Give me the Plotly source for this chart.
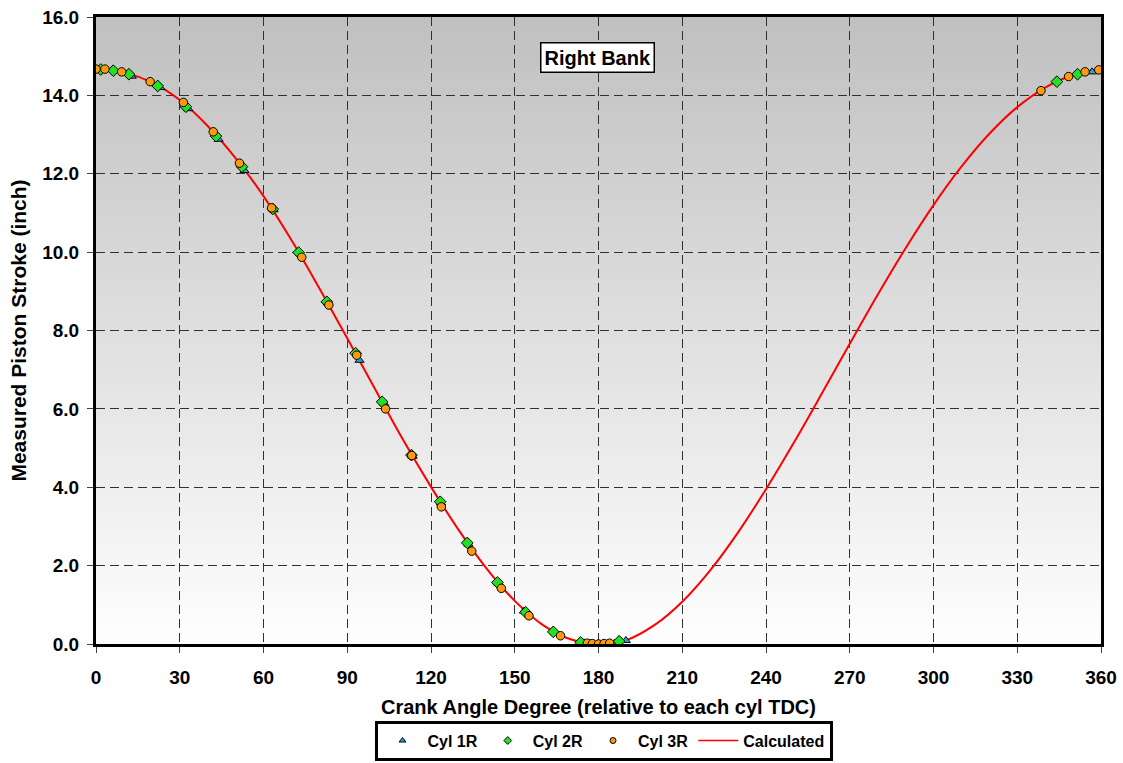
import plotly.graph_objects as go

# Measured piston stroke (inch) vs crank angle, right bank
cyl1_deg = [12.8, 23.0, 33.0, 43.9, 53.2, 63.6, 73.2, 83.2, 94.4, 103.2, 113.4, 123.6, 133.4, 144.2, 153.3, 164.4, 174.8, 185.7, 189.8, 356.8]
cyl1_val = [14.49, 14.20, 13.66, 12.88, 12.08, 11.08, 9.96, 8.70, 7.24, 6.14, 4.79, 3.60, 2.55, 1.55, 0.84, 0.29, 0.03, 0.02, 0.09, 14.60]

cyl2_deg = [1.7, 6.2, 11.8, 22.1, 32.2, 43.0, 52.3, 63.3, 72.6, 82.7, 93.0, 102.5, 113.0, 123.3, 133.0, 143.8, 153.9, 163.8, 173.6, 187.4, 344.2, 351.6]
cyl2_val = [14.66, 14.63, 14.54, 14.24, 13.71, 12.96, 12.18, 11.10, 9.99, 8.73, 7.42, 6.18, 4.82, 3.63, 2.58, 1.57, 0.81, 0.31, 0.04, 0.07, 14.35, 14.54]

cyl3_deg = [0.0, 3.2, 9.2, 19.4, 31.3, 42.0, 51.4, 62.9, 73.7, 83.4, 93.4, 103.7, 113.1, 123.7, 134.6, 145.2, 155.1, 166.4, 176.0, 177.8, 180.0, 182.0, 184.0, 338.5, 348.4, 354.3, 359.2]
cyl3_val = [14.67, 14.67, 14.60, 14.35, 13.82, 13.07, 12.27, 11.13, 9.87, 8.65, 7.37, 6.00, 4.81, 3.50, 2.37, 1.42, 0.72, 0.21, 0.02, 0.01, 0.00, 0.01, 0.02, 14.12, 14.48, 14.60, 14.65]

calc_deg = list(range(0, 361, 10))
calc_val = [14.66, 14.58, 14.33, 13.88, 13.22, 12.40, 11.43, 10.31, 9.08, 7.80,
            6.50, 5.21, 4.01, 2.90, 1.92, 1.10, 0.49, 0.12, 0.00, 0.10,
            0.48, 1.08, 1.88, 2.85, 3.95, 5.14, 6.39, 7.66, 8.91, 10.10,
            11.20, 12.18, 13.02, 13.70, 14.20, 14.52, 14.66]

x_ticks = list(range(0, 361, 30))
y_ticks = [0, 2, 4, 6, 8, 10, 12, 14, 16]

FONT = "Arial, Liberation Sans, sans-serif"
C1, C2, C3 = "#1fa8d8", "#22e022", "#ff9a10"

fig = go.Figure()

fig.add_trace(go.Scatter(x=calc_deg, y=calc_val, mode="lines", line=dict(color="#ff0000", width=2, shape="spline"),
                         showlegend=False, hoverinfo="skip"))
fig.add_trace(go.Scatter(x=cyl1_deg, y=cyl1_val, mode="markers", showlegend=False,
                         marker=dict(symbol="triangle-up", size=8, color=C1, line=dict(color="black", width=1))))
fig.add_trace(go.Scatter(x=cyl2_deg, y=cyl2_val, mode="markers", showlegend=False,
                         marker=dict(symbol="diamond", size=9, color=C2, line=dict(color="black", width=1))))
fig.add_trace(go.Scatter(x=cyl3_deg, y=cyl3_val, mode="markers", showlegend=False,
                         marker=dict(symbol="circle", size=8.5, color=C3, line=dict(color="black", width=1))))

# legend entries with small symbols
fig.add_trace(go.Scatter(x=[None], y=[None], mode="markers", name="<b>Cyl 1R</b>",
                         marker=dict(symbol="triangle-up", size=6, color=C1, line=dict(color="black", width=1))))
fig.add_trace(go.Scatter(x=[None], y=[None], mode="markers", name="<b>Cyl 2R</b>",
                         marker=dict(symbol="diamond", size=6, color=C2, line=dict(color="black", width=1))))
fig.add_trace(go.Scatter(x=[None], y=[None], mode="markers", name="<b>Cyl 3R</b>",
                         marker=dict(symbol="circle", size=6, color=C3, line=dict(color="black", width=1))))
fig.add_trace(go.Scatter(x=[None], y=[None], mode="lines", name="<b>Calculated</b>",
                         line=dict(color="#ff0000", width=1.5)))

# vertical grey-to-white gradient behind the plot area
n = 80
top, bottom = 192, 254
shapes = []
for i in range(n):
    t = (i + 0.5) / n
    c = round(bottom + (top - bottom) * t)
    shapes.append(dict(type="rect", xref="x domain", yref="y domain", x0=0, x1=1,
                       y0=i / n, y1=(i + 1) / n + 0.002, fillcolor=f"rgb({c},{c},{c})",
                       line=dict(width=0), layer="below"))

fig.update_layout(
    width=1123, height=763,
    margin=dict(l=96, r=22, t=17, b=119, autoexpand=False),
    paper_bgcolor="white", plot_bgcolor="white",
    font=dict(family=FONT, color="black", size=19),
    shapes=shapes,
    showlegend=True,
    legend=dict(orientation="h", x=0.505, xanchor="center", y=-0.186, yanchor="bottom",
                bgcolor="white", bordercolor="black", borderwidth=3,
                font=dict(family=FONT, size=16, color="black"),
                itemwidth=40, tracegroupgap=0),
    annotations=[dict(text="<b>Right Bank</b>", x=0.499, y=0.936, xref="paper", yref="paper",
                      xanchor="center", yanchor="middle",
                      showarrow=False, bgcolor="white", bordercolor="black", borderwidth=1.5,
                      borderpad=3, font=dict(family=FONT, size=20, color="black"))],
)

fig.update_xaxes(
    range=[0, 360], tickvals=x_ticks, ticktext=[f"<b>{v}</b>" for v in x_ticks],
    showline=True, linecolor="black", linewidth=3, mirror=True,
    ticks="outside", ticklen=6, tickcolor="#404040", tickwidth=1,
    showgrid=True, gridcolor="#303030", gridwidth=1, griddash="9px,5px",
    zeroline=False, tickfont=dict(size=19), ticklabelstandoff=8,
    title=dict(text="<b>Crank Angle Degree (relative to each cyl TDC)</b>", font=dict(size=20), standoff=14),
)
fig.update_yaxes(
    range=[0, 16], tickvals=y_ticks, ticktext=[f"<b>{v:.1f}</b>" for v in y_ticks],
    showline=True, linecolor="black", linewidth=3, mirror=True,
    ticks="outside", ticklen=6, tickcolor="#404040", tickwidth=1,
    showgrid=True, gridcolor="#303030", gridwidth=1, griddash="9px,5px",
    zeroline=False, tickfont=dict(size=19), ticklabelstandoff=4,
    title=dict(text="<b>Measured Piston Stroke (inch)</b>", font=dict(size=21), standoff=10),
)

fig.write_html("out.html")
